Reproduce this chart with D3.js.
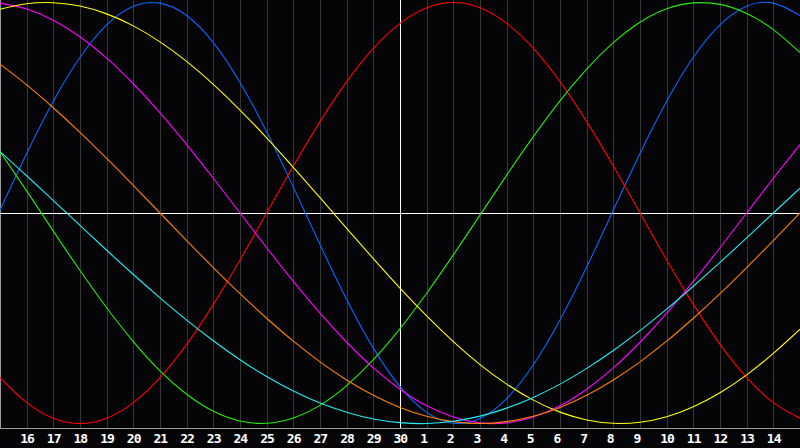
<!DOCTYPE html>
<html>
<head>
<meta charset="utf-8">
<script src="https://cdn.jsdelivr.net/npm/d3@7"></script>
<style>
  html, body { margin: 0; padding: 0; background: #050508; }
  svg { display: block; }
</style>
</head>
<body>
<svg id="chart" width="800" height="448"></svg>
<script>
// Day labels (gridlines 1..29); index 0 and 30 are the edges (15th)
const dayLabels = ["16","17","18","19","20","21","22","23","24","25","26","27","28","29","30",
                   "1","2","3","4","5","6","7","8","9","10","11","12","13","14"];
const todayIndex = 15;

// Daily values (index 0..30), scale -1..1
const physical = [0.014,0.283,0.531,0.740,0.894,0.982,0.997,0.938,0.809,0.620,0.386,0.123,-0.150,-0.411,-0.642,-0.825,-0.947,-0.999,-0.976,-0.882,-0.721,-0.508,-0.257,0.014,0.283,0.531,0.740,0.894,0.982,0.997,0.938];
const emotional = [-0.782,-0.901,-0.975,-1.000,-0.975,-0.901,-0.782,-0.624,-0.434,-0.223,0.000,0.223,0.434,0.624,0.782,0.901,0.975,1.000,0.975,0.901,0.782,0.624,0.434,0.223,0.000,-0.223,-0.434,-0.624,-0.782,-0.901,-0.975];
const intellectual = [0.291,0.105,-0.086,-0.273,-0.450,-0.611,-0.750,-0.861,-0.942,-0.988,-0.999,-0.974,-0.914,-0.820,-0.697,-0.549,-0.381,-0.199,-0.010,0.180,0.363,0.533,0.683,0.809,0.906,0.970,0.998,0.991,0.948,0.871,0.762];
const intuitive = [0.997,0.969,0.916,0.837,0.736,0.614,0.476,0.325,0.165,0.000,-0.165,-0.325,-0.476,-0.614,-0.736,-0.837,-0.916,-0.969,-0.997,-0.997,-0.969,-0.916,-0.837,-0.736,-0.614,-0.476,-0.325,-0.165,0.000,0.165,0.325];
const aesthetic = [0.968,0.994,0.999,0.983,0.946,0.889,0.813,0.720,0.611,0.489,0.357,0.217,0.073,-0.073,-0.217,-0.357,-0.489,-0.611,-0.720,-0.813,-0.889,-0.946,-0.983,-0.999,-0.994,-0.968,-0.920,-0.854,-0.769,-0.667,-0.552];
const awareness = [0.707,0.609,0.500,0.383,0.259,0.131,0.000,-0.131,-0.259,-0.383,-0.500,-0.609,-0.707,-0.793,-0.866,-0.924,-0.966,-0.991,-1.000,-0.991,-0.966,-0.924,-0.866,-0.793,-0.707,-0.609,-0.500,-0.383,-0.259,-0.131,0.000];
const spiritual = [0.292,0.177,0.059,-0.059,-0.177,-0.292,-0.403,-0.509,-0.607,-0.697,-0.777,-0.846,-0.903,-0.947,-0.979,-0.996,-1.000,-0.989,-0.965,-0.927,-0.876,-0.813,-0.738,-0.653,-0.559,-0.457,-0.348,-0.235,-0.118,0.000,0.118];

const seriesNames = ["physical","emotional","intellectual","intuitive","aesthetic","awareness","spiritual"];
const seriesValues = [physical, emotional, intellectual, intuitive, aesthetic, awareness, spiritual];
const seriesColors = ["#0a66ff","#ff0000","#22ee00","#ff00ff","#ffff00","#ff8000","#22eeee"];

const W = 800, H = 448, plotBottom = 428;
const svg = d3.select("#chart");

svg.append("rect").attr("x",0).attr("y",0).attr("width",W).attr("height",H).attr("fill","#050508");

const x = d3.scaleLinear().domain([0, 30]).range([0, W]);
const y = d3.scaleLinear().domain([-1, 1]).range([423.5, 2.5]);

// Vertical gridlines
const gridIdx = d3.range(1, 30);
svg.append("g").selectAll("line").data(gridIdx).join("line")
  .attr("x1", d => Math.round(x(d)) + 0.5).attr("x2", d => Math.round(x(d)) + 0.5)
  .attr("y1", 0).attr("y2", plotBottom)
  .attr("stroke", "#363636").attr("stroke-width", 1);

// Left edge
svg.append("line").attr("x1",0.5).attr("x2",0.5).attr("y1",0).attr("y2",plotBottom)
  .attr("stroke","#9a9a9a");

// Bottom axis line
svg.append("line").attr("x1",0).attr("x2",W).attr("y1",plotBottom+0.5).attr("y2",plotBottom+0.5)
  .attr("stroke","#9a9a9a");

// Center crosshair
svg.append("line").attr("x1",0).attr("x2",W).attr("y1",Math.round(y(0))+0.5).attr("y2",Math.round(y(0))+0.5)
  .attr("stroke","#ffffff");
svg.append("line").attr("x1",Math.round(x(todayIndex))+0.5).attr("x2",Math.round(x(todayIndex))+0.5)
  .attr("y1",0).attr("y2",plotBottom).attr("stroke","#ffffff");

// Curves
const line = d3.line().x((d, i) => x(i)).y(d => y(d)).curve(d3.curveNatural);
svg.append("defs").append("clipPath").attr("id","clip")
  .append("rect").attr("x",0).attr("y",0).attr("width",W).attr("height",plotBottom);
const curves = svg.append("g").attr("clip-path","url(#clip)");
seriesValues.forEach((vals, k) => {
  curves.append("path").datum(vals)
    .attr("d", line)
    .attr("fill","none")
    .attr("stroke", seriesColors[k])
    .attr("stroke-width", 1.1)
    .attr("class", seriesNames[k]);
});

// Day labels via axis
const axis = d3.axisBottom(x).tickValues(gridIdx).tickSize(0)
  .tickFormat(d => dayLabels[d - 1]);
const ag = svg.append("g").attr("transform", `translate(0,${plotBottom})`).call(axis);
ag.select(".domain").remove();
ag.selectAll("text")
  .attr("x", -7).attr("dy", null).attr("y", 15)
  .attr("text-anchor","start")
  .attr("fill","#ffffff")
  .style("font-family","'DejaVu Sans Mono', monospace")
  .style("font-weight","bold")
  .style("font-size","13px")
  .style("letter-spacing","-1px");
</script>
</body>
</html>
